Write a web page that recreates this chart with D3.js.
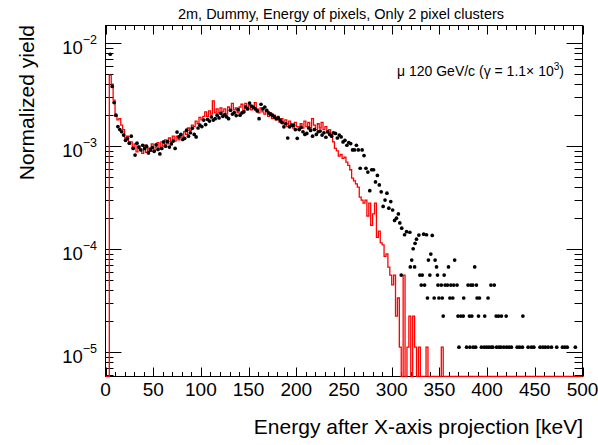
<!DOCTYPE html>
<html><head><meta charset="utf-8">
<script src="https://cdn.jsdelivr.net/npm/d3@7"></script>
<style>
body{margin:0;background:#fff}
svg{display:block}
text{font-family:"Liberation Sans",Arial,Helvetica,sans-serif;fill:#000}
</style>
</head><body>
<svg id="c" width="598" height="445"></svg>
<script>
// ---------------- data ----------------
const titleText = "2m, Dummy, Energy of pixels, Only 2 pixel clusters";
const xTitle = "Energy after X-axis projection [keV]";
const yTitle = "Normalized yield";
const xRange = [0, 500];
const yRange = [5.81e-6, 1.483e-2];
const xMajorTicks = [0, 50, 100, 150, 200, 250, 300, 350, 400, 450, 500];
const yDecades = [1e-5, 1e-4, 1e-3, 1e-2];
const yDecadeExponents = ["\u22125", "\u22124", "\u22123", "\u22122"];
const binLow = 0, binWidth = 2; // keV

// red histogram (2 keV bins from 0 to 500 keV)
const redYield = [
0, 0, 4.9e-3, 4.0e-3, 2.8e-3, 1.95e-3, 1.8e-3, 1.85e-3, 1.6e-3, 1.45e-3,
1.2e-3, 1.25e-3, 1.05e-3, 1.1e-3, 9.5e-4, 1.05e-3, 8.8e-4, 1.0e-3, 9.2e-4, 8.5e-4,
1.02e-3, 8.7e-4, 9.6e-4, 8.9e-4, 1.05e-3, 9.0e-4, 9.8e-4, 1.08e-3, 9.5e-4, 1.1e-3,
1.0e-3, 1.15e-3, 1.05e-3, 1.2e-3, 1.1e-3, 1.25e-3, 1.12e-3, 1.25e-3, 1.15e-3, 1.3e-3,
1.22e-3, 1.38e-3, 1.3e-3, 1.5e-3, 1.42e-3, 1.6e-3, 1.55e-3, 1.75e-3, 1.65e-3, 1.9e-3,
1.8e-3, 1.95e-3, 2.15e-3, 1.95e-3, 2.2e-3, 2.05e-3, 2.75e-3, 2.1e-3, 2.3e-3, 2.1e-3,
2.35e-3, 2.15e-3, 2.3e-3, 2.05e-3, 2.4e-3, 2.2e-3, 2.6e-3, 2.25e-3, 2.35e-3, 2.1e-3,
2.4e-3, 2.55e-3, 2.2e-3, 2.6e-3, 2.3e-3, 2.5e-3, 2.25e-3, 2.45e-3, 2.65e-3, 2.3e-3,
2.1e-3, 2.35e-3, 2.15e-3, 2.05e-3, 2.2e-3, 1.95e-3, 2.1e-3, 1.85e-3, 2.0e-3, 1.8e-3,
1.95e-3, 1.7e-3, 1.85e-3, 1.65e-3, 1.8e-3, 1.55e-3, 1.75e-3, 1.6e-3, 1.5e-3, 1.7e-3,
1.55e-3, 1.45e-3, 1.65e-3, 1.5e-3, 1.75e-3, 1.55e-3, 1.7e-3, 1.5e-3, 1.85e-3, 1.6e-3,
1.45e-3, 1.65e-3, 1.5e-3, 1.7e-3, 1.45e-3, 1.55e-3, 1.35e-3, 1.45e-3, 1.3e-3, 1.1e-3,
9.5e-4, 9.0e-4, 8.0e-4, 8.3e-4, 7.6e-4, 7.8e-4, 7.0e-4, 6.5e-4, 5.9e-4, 4.9e-4,
4.6e-4, 4.3e-4, 4.0e-4, 3.2e-4, 3.0e-4, 2.8e-4, 3.0e-4, 2.1e-4, 2.8e-4, 1.7e-4,
2.2e-4, 2.8e-4, 1.3e-4, 1.5e-4, 1.15e-4, 1.1e-4, 8.5e-5, 9.0e-5, 6.7e-5, 5.6e-5,
4.5e-5, 5.6e-5, 2.24e-5, 3.36e-5, 1.12e-5, 0, 5.6e-5, 0, 1.12e-5, 2.24e-5,
0, 2.24e-5, 1.12e-5, 0, 1.12e-5, 0, 0, 0, 1.12e-5, 0,
0, 0, 0, 0, 0, 0, 1.12e-5, 0, 0, 0,
0, 0, 0, 0, 0, 0, 0, 0, 0, 0,
0, 0, 0, 0, 0, 0, 0, 0, 0, 0,
0, 0, 0, 0, 0, 0, 0, 0, 0, 0,
0, 0, 0, 0, 0, 0, 0, 0, 0, 0,
0, 0, 0, 0, 0, 0, 0, 0, 0, 0,
0, 0, 0, 0, 0, 0, 0, 0, 0, 0,
0, 0, 0, 0, 0, 0, 0, 0, 0, 0
];

// black markers: 2 keV bins from 0 to 300 keV
const blackBinYield = [
0, 0, 7.8e-3, 3.8e-3, 2.65e-3, 2.0e-3, 1.55e-3, 1.45e-3, 1.38e-3, 1.28e-3,
1.14e-3, 1.19e-3, 1.07e-3, 1.25e-3, 9.5e-4, 8.2e-4, 1.07e-3, 9.8e-4, 9.2e-4, 1.02e-3,
9.5e-4, 1.0e-3, 8.6e-4, 9.2e-4, 9.7e-4, 8.9e-4, 1.03e-3, 9.3e-4, 8.4e-4, 9.5e-4,
1.1e-3, 1.0e-3, 1.11e-3, 9.8e-4, 1.05e-3, 1.12e-3, 9.5e-4, 1.37e-3, 1.23e-3, 1.3e-3,
1.16e-3, 1.19e-3, 1.43e-3, 1.25e-3, 1.35e-3, 1.49e-3, 1.3e-3, 1.23e-3, 1.5e-3, 1.6e-3,
1.55e-3, 1.79e-3, 1.62e-3, 1.82e-3, 1.75e-3, 1.92e-3, 1.79e-3, 1.85e-3, 2.0e-3, 1.88e-3,
2.08e-3, 1.95e-3, 2.02e-3, 1.92e-3, 1.85e-3, 2.23e-3, 2.05e-3, 2.12e-3, 1.98e-3, 2.26e-3,
2.0e-3, 2.1e-3, 2.15e-3, 2.4e-3, 2.3e-3, 2.62e-3, 2.45e-3, 2.38e-3, 2.3e-3, 2.2e-3,
1.85e-3, 2.55e-3, 2.3e-3, 2.4e-3, 2.22e-3, 2.1e-3, 2.05e-3, 2.0e-3, 1.92e-3, 1.85e-3,
1.88e-3, 1.79e-3, 1.7e-3, 1.54e-3, 1.65e-3, 1.2e-3, 1.54e-3, 1.6e-3, 1.6e-3, 1.45e-3,
1.19e-3, 1.45e-3, 1.52e-3, 1.38e-3, 1.3e-3, 1.33e-3, 1.5e-3, 1.42e-3, 1.25e-3, 1.45e-3,
1.3e-3, 1.38e-3, 1.4e-3, 1.28e-3, 1.35e-3, 1.22e-3, 1.38e-3, 1.3e-3, 1.25e-3, 1.35e-3,
1.33e-3, 1.2e-3, 1.28e-3, 1.23e-3, 1.1e-3, 1.14e-3, 1.02e-3, 1.08e-3, 1.06e-3, 9.2e-4,
9.2e-4, 1.02e-3, 9.2e-4, 6.1e-4, 9.2e-4, 8.1e-4, 6.1e-4, 5.6e-4, 3.7e-4, 5.9e-4,
5.9e-4, 4.5e-4, 5.2e-4, 4.2e-4, 3.6e-4, 2.6e-4, 3.0e-4, 3.5e-4, 2.5e-4, 2.9e-4
];

// black markers above 300 keV: [energy keV, yield]
const blackTail = [
[301,2.4e-4],[303,1.9e-4],[305,2.0e-4],[307,2.2e-4],[308.5,1.8e-4],[310,5.6e-5],[310.5,1.6e-4],
[313.5,1.38e-4],[315.5,1.48e-4],[319,1.46e-4],[319.5,6.72e-5],[321,7.84e-5],[322.5,1.01e-4],
[324,6.72e-5],[324.5,1.14e-4],[326,1.25e-4],[328.5,1.37e-4],[329.5,5.6e-5],[331,4.48e-5],
[332,5.6e-5],[333.5,1.4e-4],[334.5,4.48e-5],[336.5,1.38e-4],[337.5,3.36e-5],[338.5,7.84e-5],
[340,5.6e-5],[341,8.96e-5],[342.5,1.36e-4],[344.5,3.36e-5],[345.5,7.84e-5],[347,6.72e-5],
[348,5.6e-5],[348.5,4.48e-5],[349.5,3.36e-5],[352,4.48e-5],[353,3.36e-5],[354,2.24e-5],
[355,5.6e-5],[356,4.48e-5],[358.5,4.48e-5],[359.5,6.72e-5],[361,3.36e-5],[362,4.48e-5],
[364,3.36e-5],[365,4.48e-5],[366,7.84e-5],[368.5,4.48e-5],[369.5,2.24e-5],[370.5,1.12e-5],
[372.5,2.24e-5],[375,2.24e-5],[375.5,3.36e-5],[378.5,1.12e-5],[380,4.48e-5],[381.5,2.24e-5],
[382,1.12e-5],[383,4.48e-5],[384,2.24e-5],[385,4.48e-5],[385.5,1.12e-5],[387,6.72e-5],
[388,1.12e-5],[388.8,4.48e-5],[389.5,3.36e-5],[391,2.24e-5],[392,3.36e-5],[394,1.12e-5],
[397,1.12e-5],[397.5,2.24e-5],[399.5,1.12e-5],[401,3.36e-5],[402,1.12e-5],[404,4.48e-5],
[404.5,1.12e-5],[406,1.12e-5],[407.5,4.48e-5],[409.5,2.24e-5],[410,1.12e-5],[412,2.24e-5],
[412.5,1.12e-5],[414.5,1.12e-5],[415,2.24e-5],[417.5,1.12e-5],[420,2.24e-5],[420.5,1.12e-5],
[423,1.12e-5],[425.5,1.12e-5],[431.5,1.12e-5],[434,1.12e-5],[437,1.12e-5],[437.5,2.24e-5],
[443,1.12e-5],[446.5,1.12e-5],[449,1.12e-5],[455.5,1.12e-5],[458.5,1.12e-5],[461,1.12e-5],
[464,1.12e-5],[467.5,1.12e-5],[473,1.12e-5],[479,1.12e-5],[481.5,1.12e-5],[484,1.12e-5],
[492.5,1.12e-5]
];

// ---------------- drawing ----------------
const svg = d3.select("#c");
const L = 105.5, R = 582.5, T = 25.5, B = 376.5;
const x = d3.scaleLinear().domain(xRange).range([L, R]);
const y = d3.scaleLog().domain(yRange).range([B, T]);

svg.append("rect").attr("width", 598).attr("height", 445).attr("fill", "#fff");

svg.append("defs").append("clipPath").attr("id", "clip")
  .append("rect").attr("x", L).attr("y", T - 1).attr("width", R - L).attr("height", B - T + 2);

// frame
svg.append("rect").attr("x", L).attr("y", T).attr("width", R - L).attr("height", B - T)
  .attr("fill", "none").attr("stroke", "#000").attr("stroke-width", 1);

// ticks
const tk = svg.append("g").attr("stroke", "#000").attr("stroke-width", 1);
const xMinor = d3.range(xRange[0], xRange[1] + 0.1, 10).filter(v => !xMajorTicks.includes(v));
const xMajLen = 9, xMinLen = 4.5, yMajLen = 16, yMinLen = 8;
function vtick(v, len) {
  const px = Math.round(x(v)) + 0.5;
  tk.append("line").attr("x1", px).attr("x2", px).attr("y1", B).attr("y2", B - len);
  tk.append("line").attr("x1", px).attr("x2", px).attr("y1", T).attr("y2", T + len);
}
xMajorTicks.forEach(v => vtick(v, xMajLen));
xMinor.forEach(v => vtick(v, xMinLen));

const yMinor = [];
[1e-6, 1e-5, 1e-4, 1e-3, 1e-2].forEach(d => {
  for (let m = 2; m <= 9; m++) { const v = m * d; if (v >= yRange[0] && v <= yRange[1]) yMinor.push(v); }
});
function htick(v, len) {
  const py = Math.round(y(v)) + 0.5;
  tk.append("line").attr("x1", L).attr("x2", L + len).attr("y1", py).attr("y2", py);
  tk.append("line").attr("x1", R).attr("x2", R - len).attr("y1", py).attr("y2", py);
}
yDecades.forEach(v => htick(v, yMajLen));
yMinor.forEach(v => htick(v, yMinLen));

// x tick labels
svg.append("g").selectAll("text").data(xMajorTicks).join("text")
  .attr("x", d => x(d)).attr("y", 396).attr("text-anchor", "middle")
  .attr("font-size", 19).text(d => d);

// y tick labels
yDecades.forEach((d, i) => {
  const t = svg.append("text").attr("x", 97).attr("y", y(d) + 10.6)
    .attr("text-anchor", "end").attr("font-size", 18.5);
  t.append("tspan").text("10");
  t.append("tspan").attr("dy", -9.9).attr("font-size", 12.5).text(yDecadeExponents[i]);
});

// data
const plot = svg.append("g").attr("clip-path", "url(#clip)");
const redPts = redYield.map((v, i) => [x(binLow + i * binWidth), v > 0 ? y(v) : B]);
redPts.push([x(binLow + redYield.length * binWidth), redPts[redPts.length - 1][1]]);
plot.append("path").attr("d", d3.line().curve(d3.curveStepAfter)(redPts))
  .attr("fill", "none").attr("stroke", "#ff0000").attr("stroke-width", 1.3);

const blackPts = blackBinYield
  .map((v, i) => [binLow + (i + 0.5) * binWidth, v])
  .filter(p => p[1] > 0)
  .concat(blackTail);
plot.append("g").selectAll("circle").data(blackPts).join("circle")
  .attr("cx", d => x(d[0])).attr("cy", d => y(d[1])).attr("r", 1.85).attr("fill", "#000");

// titles
svg.append("text").attr("x", 341).attr("y", 18.5).attr("text-anchor", "middle")
  .attr("font-size", 14.5).text(titleText);
svg.append("text").attr("x", 583).attr("y", 434).attr("text-anchor", "end")
  .attr("font-size", 21).text(xTitle);
svg.append("text").attr("transform", "translate(33.5,25) rotate(-90)")
  .attr("text-anchor", "end").attr("font-size", 21).text(yTitle);

// annotation
const ann = svg.append("text").attr("x", 397).attr("y", 75.5).attr("font-size", 14);
ann.append("tspan").text("\u03bc 120 GeV/c (\u03b3 = 1.1\u00d7 10");
ann.append("tspan").attr("dy", -6).attr("font-size", 10).text("3");
ann.append("tspan").attr("dy", 6).attr("font-size", 14).text(")");
</script>
</body></html>
